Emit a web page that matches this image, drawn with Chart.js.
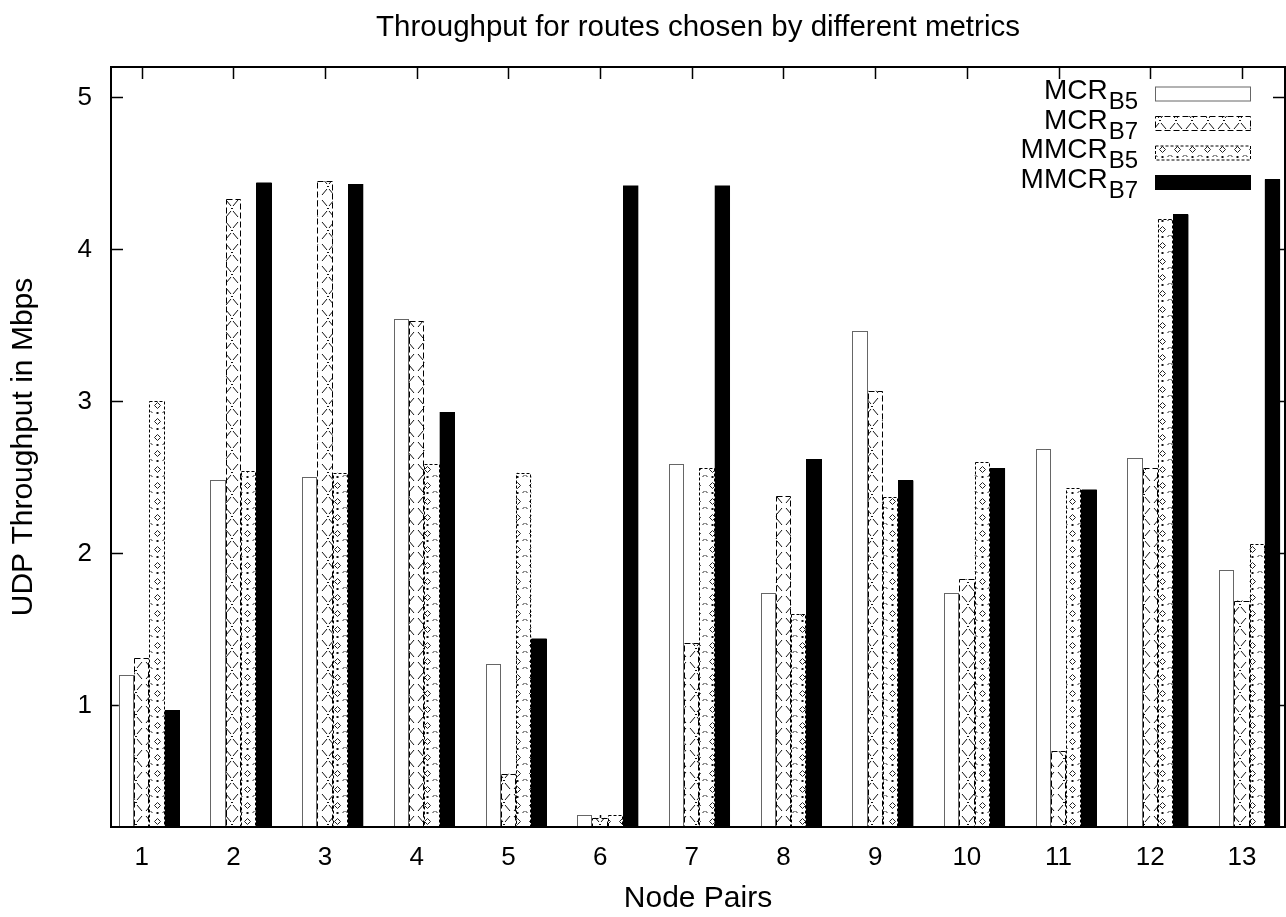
<!DOCTYPE html>
<html>
<head>
<meta charset="utf-8">
<script src="https://cdn.jsdelivr.net/npm/chart.js@4.4.1/dist/chart.umd.min.js"></script>
<style>
  html, body { margin: 0; padding: 0; background: #fff; }
  #wrap { width: 1286px; height: 917px; position: relative; }
</style>
</head>
<body>
<div id="wrap"><canvas id="chart"></canvas></div>
<script>
// ── Data ──────────────────────────────────────────────────────
const pairs   = [1, 2, 3, 4, 5, 6, 7, 8, 9, 10, 11, 12, 13];
const mcrB5   = [1.20, 2.48, 2.50, 3.54, 1.27, 0.28, 2.59, 1.74, 3.46, 1.74, 2.69, 2.63, 1.89];
const mcrB7   = [1.31, 4.33, 4.45, 3.53, 0.55, 0.26, 1.41, 2.38, 3.07, 1.83, 0.70, 2.56, 1.69];
const mmcrB5  = [3.00, 2.54, 2.53, 2.59, 2.53, 0.28, 2.56, 1.60, 2.37, 2.60, 2.43, 4.20, 2.06];
const mmcrB7  = [0.97, 4.44, 4.43, 2.93, 1.44, 4.42, 4.42, 2.62, 2.48, 2.56, 2.42, 4.23, 4.46];
const yTicks  = [1, 2, 3, 4, 5];
const seriesNames = [['MCR', 'B5'], ['MCR', 'B7'], ['MMCR', 'B5'], ['MMCR', 'B7']];

const FONT = "'Liberation Sans', Arial, Helvetica, sans-serif";
const canvas = document.getElementById('chart');
const ctx0 = canvas.getContext('2d');

// ── gnuplot-like fill patterns ────────────────────────────────
function makeCrossPattern() {
    const c = document.createElement('canvas');
    c.width = 16; c.height = 22;
    const g = c.getContext('2d');
    g.fillStyle = '#fff'; g.fillRect(0, 0, 16, 22);
    g.strokeStyle = '#111'; g.lineWidth = 1;
    g.beginPath();
    g.moveTo(2, 2);  g.lineTo(7, 8);
    g.moveTo(14, 2); g.lineTo(9, 8);
    g.moveTo(7, 13); g.lineTo(2, 19);
    g.moveTo(9, 13); g.lineTo(14, 19);
    g.stroke();
    g.fillStyle = '#111';
    g.fillRect(7, 10, 2, 1);
    return ctx0.createPattern(c, 'repeat');
}

function makeDiamondPattern() {
    const c = document.createElement('canvas');
    c.width = 15; c.height = 16;
    const g = c.getContext('2d');
    g.fillStyle = '#fff'; g.fillRect(0, 0, 15, 16);
    g.strokeStyle = '#222'; g.lineWidth = 1;
    g.beginPath();
    g.moveTo(4.5, 5.5); g.lineTo(7.5, 2.5); g.lineTo(10.5, 5.5); g.lineTo(7.5, 8.5); g.closePath();
    g.moveTo(0.5, 11); g.lineTo(2.5, 13);
    g.moveTo(14.5, 11); g.lineTo(12.5, 13);
    g.stroke();
    g.fillStyle = '#111';
    g.fillRect(6.5, 12, 2, 2);
    return ctx0.createPattern(c, 'repeat');
}

const crossPat   = makeCrossPattern();
const diamondPat = makeDiamondPattern();

// styles per series: fill, outline colour, outline dash
const fills    = ['#ffffff', crossPat, diamondPat, '#000000'];
const outlines = ['#666666', '#000000', '#000000', '#000000'];
const dashes   = [[], [6, 3], [3, 2], []];

function toPoints(values) {
    return values.map((v, i) => ({ x: pairs[i], y: v }));
}

// ── Plugin: inward ticks, frame, dashed bar outlines, legend ──
const gnuFrame = {
    id: 'gnuFrame',
    beforeDatasetsDraw(chart) {
        const { ctx, chartArea: a, scales } = chart;
        ctx.save();
        ctx.strokeStyle = '#000';
        ctx.lineWidth = 1.5;
        ctx.beginPath();
        scales.x.ticks.forEach(t => {
            const px = Math.round(scales.x.getPixelForValue(t.value)) + 0.5;
            ctx.moveTo(px, a.bottom); ctx.lineTo(px, a.bottom - 12);
            ctx.moveTo(px, a.top);    ctx.lineTo(px, a.top + 12);
        });
        scales.y.ticks.forEach(t => {
            const py = Math.round(scales.y.getPixelForValue(t.value)) + 0.5;
            ctx.moveTo(a.left, py);  ctx.lineTo(a.left + 12, py);
            ctx.moveTo(a.right, py); ctx.lineTo(a.right - 12, py);
        });
        ctx.stroke();
        ctx.restore();
    },
    afterDatasetsDraw(chart) {
        const { ctx, chartArea: a } = chart;
        ctx.save();
        ctx.beginPath();
        ctx.rect(a.left, a.top, a.right - a.left, a.bottom - a.top);
        ctx.clip();
        chart.data.datasets.forEach((ds, i) => {
            ctx.strokeStyle = outlines[i];
            ctx.lineWidth = 1;
            ctx.setLineDash(dashes[i]);
            chart.getDatasetMeta(i).data.forEach(bar => {
                const { x, y, base, width } = bar.getProps(['x', 'y', 'base', 'width'], true);
                const l = Math.round(x - width / 2) + 0.5;
                const r = Math.round(x + width / 2) - 0.5;
                const t = Math.round(y) + 0.5;
                const b = Math.min(base, a.bottom);
                ctx.strokeRect(l, t, r - l, b - t);
            });
        });
        ctx.restore();

        // border
        ctx.save();
        ctx.strokeStyle = '#000';
        ctx.lineWidth = 2;
        ctx.strokeRect(a.left, a.top, a.right - a.left, a.bottom - a.top);
        ctx.restore();
    },
    afterDraw(chart) {
        const { ctx } = chart;
        const boxL = 1155, boxR = 1251, textR = 1138;
        ctx.save();
        seriesNames.forEach(([main, sub], i) => {
            const cy = 94 + 29.5 * i;
            // sample
            ctx.fillStyle = fills[i];
            ctx.fillRect(boxL, cy - 7.5, boxR - boxL, 15);
            ctx.strokeStyle = outlines[i];
            ctx.lineWidth = 1;
            ctx.setLineDash(dashes[i]);
            ctx.strokeRect(boxL + 0.5, cy - 7, boxR - boxL - 1, 14);
            ctx.setLineDash([]);
            // label with subscript
            ctx.fillStyle = '#000';
            ctx.textBaseline = 'alphabetic';
            ctx.textAlign = 'right';
            ctx.font = '24px ' + FONT;
            const subW = ctx.measureText(sub).width;
            ctx.fillText(sub, textR, cy + 15);
            ctx.font = '28px ' + FONT;
            ctx.fillText(main, textR - subW - 1, cy + 5);
        });
        ctx.restore();
    }
};

// ── Chart ─────────────────────────────────────────────────────
new Chart(canvas, {
    type: 'bar',
    data: {
        datasets: [mcrB5, mcrB7, mmcrB5, mmcrB7].map((vals, i) => ({
            label: seriesNames[i].join('_'),
            data: toPoints(vals),
            xAxisID: 'xb',
            backgroundColor: fills[i],
            borderWidth: 0,
            categoryPercentage: 4 / 6,
            barPercentage: 1.0,
        }))
    },
    options: {
        responsive: true,
        maintainAspectRatio: false,
        animation: false,
        events: [],
        layout: { padding: { left: 0, right: 1, top: 0, bottom: 0 } },
        plugins: {
            legend: { display: false },
            tooltip: { enabled: false },
            title: {
                display: true,
                fullSize: false,
                text: 'Throughput for routes chosen by different metrics',
                color: '#000',
                font: { family: FONT, size: 29.5, weight: 'normal' },
                padding: { top: 10, bottom: 21.6 },
            },
        },
        scales: {
            x: {
                type: 'linear',
                position: 'bottom',
                offset: false,
                min: 0.665,
                max: 13.47,
                afterBuildTicks: s => { s.ticks = pairs.map(v => ({ value: v })); },
                afterFit: s => { s.height = 90; },
                grid: { display: false, drawTicks: false, offset: false },
                border: { display: false },
                ticks: { color: '#000', padding: 15, maxRotation: 0, font: { family: FONT, size: 26 } },
                title: {
                    display: true, text: 'Node Pairs', color: '#000',
                    font: { family: FONT, size: 30 }, padding: { top: 0, bottom: 0 },
                },
            },
            // hidden axis that carries the bars; shifted so a cluster sits 1/12 unit right of its tick
            xb: {
                type: 'linear',
                display: false,
                offset: false,
                grid: { offset: false },
                min: 0.665 - 1 / 12,
                max: 13.47 - 1 / 12,
            },
            y: {
                min: 0.2,
                max: 5.2,
                afterBuildTicks: s => { s.ticks = yTicks.map(v => ({ value: v })); },
                afterFit: s => { s.width = 111; },
                grid: { display: false, drawTicks: false },
                border: { display: false },
                ticks: { color: '#000', padding: 19, font: { family: FONT, size: 26 } },
                title: {
                    display: true, text: 'UDP Throughput in Mbps', color: '#000',
                    font: { family: FONT, size: 30 }, padding: { top: 6, bottom: 0 },
                },
            },
        },
    },
    plugins: [gnuFrame],
});
</script>
</body>
</html>
